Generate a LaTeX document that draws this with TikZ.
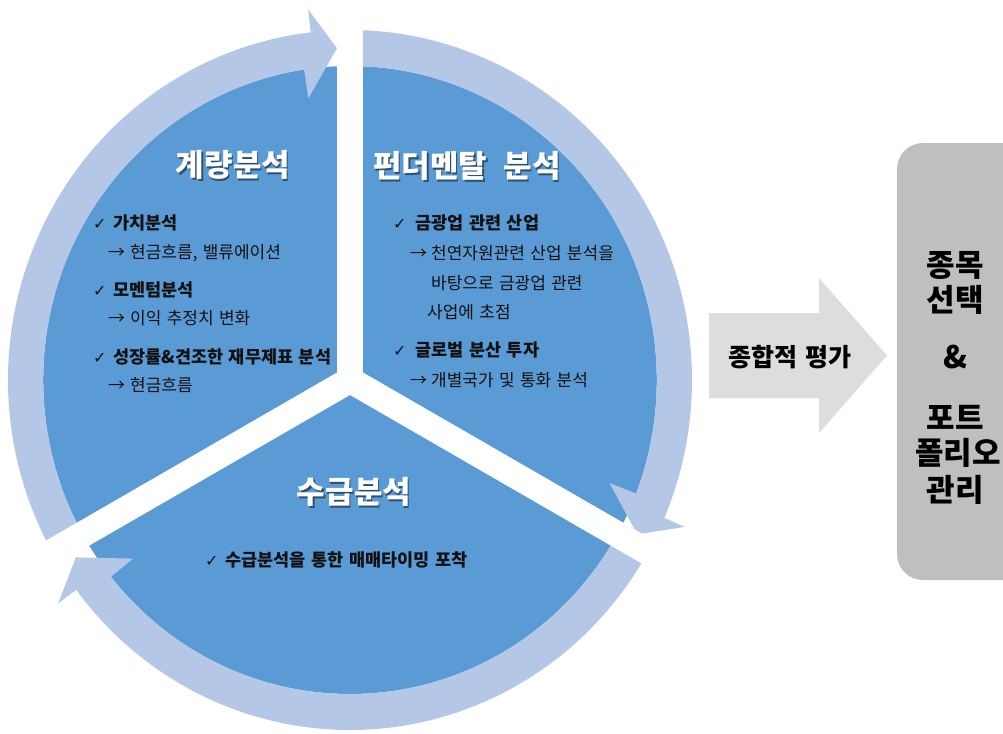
\documentclass[tikz,border=0pt]{standalone}
\usepackage{fontspec}
\setmainfont{Noto Sans CJK KR}[WordSpace=1.4]
\newfontfamily\symfont{DejaVu Sans}
\definecolor{pieblue}{HTML}{5B9BD5}
\definecolor{ringblue}{HTML}{B4C7E7}
\definecolor{arrowgrey}{HTML}{DDDDDD}
\definecolor{boxgrey}{HTML}{BFBFBF}
\definecolor{txt}{HTML}{111111}
\definecolor{shadowc}{HTML}{2E4F6E}
% tail angle, back-outer angle, back-inner angle, tip angle
\newcommand\ringarrow[4]{%
  \fill[ringblue] (#1:342pt and 350pt)
    arc[start angle=#1, end angle=#2, x radius=342pt, y radius=350pt]
    -- (#2:364.4pt and 373pt) -- (#4:324.4pt and 332pt)
    -- (#3:278.4pt and 285pt) -- (#3:306.8pt and 314pt)
    arc[start angle=#3, end angle=#1, x radius=306.8pt, y radius=314pt] -- cycle;}
\newcommand\chk[1]{\makebox[#1][l]{\symfont\fontsize{16}{18}\selectfont ✓}}
\newcommand\arr[1]{\makebox[#1][l]{→}}
\newcommand\shadowed[1]{\makebox[0pt][l]{\hspace{1.3pt}\raisebox{-1.3pt}{\color{shadowc}#1}}#1}
\begin{document}
\begin{tikzpicture}[x=1pt,y=-1pt,
  titletxt/.style={text=white, font=\fontsize{31}{35}\selectfont\bfseries, inner sep=0pt},
  itemtxt/.style={anchor=west, text=txt, font=\fontsize{17.5}{20}\selectfont\bfseries, inner sep=0pt},
  subtxt/.style={anchor=west, text=txt, font=\fontsize{17}{20}\selectfont, inner sep=0pt},
  boxtxt/.style={text=black, font=\fontsize{31}{35}\selectfont\bfseries, inner sep=0pt},
  evaltxt/.style={text=black, font=\fontsize{25}{29}\selectfont\bfseries, inner sep=0pt},
]
\useasboundingbox (0,0) rectangle (1003,733);
\clip (0,0) rectangle (1003,733);

% pie and ring arrows
\begin{scope}[shift={(350,380)}, x=1pt, y=1pt]
  \fill[pieblue] (0,0) ellipse [x radius=306.8pt, y radius=314pt];
  \ringarrow{210}{96.6}{98.6}{92.3}
  \ringarrow{90}{-23.2}{-21.2}{-27.7}
  \ringarrow{330}{216.8}{218.8}{212.3}
  % white gaps
  \foreach \a in {90,210,330}
    \fill[white, rotate=\a] (0,-13) rectangle (400,13);
\end{scope}

% sector 1
\node[titletxt] (t1) at (233,166) {\shadowed{계량분석}};
\node[itemtxt] (a1) at (93,223) {\chk{20pt}가치분석};
\node[subtxt] (a2) at (108,253) {\arr{22pt}현금흐름, 밸류에이션};
\node[itemtxt] (a3) at (93,290) {\chk{20pt}모멘텀분석};
\node[subtxt] (a4) at (108,318) {\arr{22pt}이익 추정치 변화};
\node[itemtxt] (a5) at (93,357) {\chk{20pt}성장률\&견조한 재무제표 분석};
\node[subtxt] (a6) at (108,385) {\arr{22pt}현금흐름};

% sector 2
\node[titletxt] (t2) at (467,167) {\shadowed{펀더멘탈\hspace{0.2em} 분석}};
\node[itemtxt] (b1) at (393,223) {\chk{22pt}금광업 관련 산업};
\node[subtxt] (b2) at (410,253) {\arr{21pt}천연자원관련 산업 분석을};
\node[subtxt] (b3) at (431,283) {바탕으로 금광업 관련};
\node[subtxt] (b4) at (427,312) {사업에 초점};
\node[itemtxt] (b5) at (393,350) {\chk{22pt}글로벌 분산 투자};
\node[subtxt] (b6) at (410,380) {\arr{21pt}개별국가 및 통화 분석};

% sector 3
\node[titletxt] (t3) at (354,493) {\shadowed{수급분석}};
\node[itemtxt] (c1) at (205,560) {\chk{20pt}수급분석을 통한 매매타이밍 포착};

% evaluation arrow
\fill[arrowgrey] (709,313) -- (819,313) -- (819,278) -- (887,355.5)
  -- (819,433) -- (819,398) -- (709,398) -- cycle;
\node[evaltxt] (ev) at (790,357) {종합적 평가};

% selection box
\fill[boxgrey, rounded corners=26pt] (897,143) rectangle (1060,580);
\node[boxtxt] (s1) at (955,265) {종목};
\node[boxtxt] (s2) at (955,300) {선택};
\node[boxtxt] (s3) at (955,357) {\&};
\node[boxtxt] (s4) at (955,417) {포트};
\node[boxtxt] (s5) at (958,453) {폴리오};
\node[boxtxt] (s6) at (955,490) {관리};
\end{tikzpicture}
\end{document}
